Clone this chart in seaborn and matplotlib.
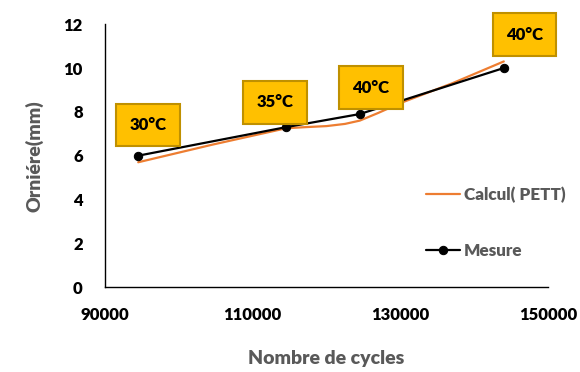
import matplotlib
matplotlib.use("Agg")
import matplotlib.pyplot as plt
import seaborn as sns
import pandas as pd

# measured points
cycles_mesure = [94500, 114500, 124500, 144000]
orniere_mesure = [6.0, 7.3, 7.9, 10.0]

# calculated curve (PETT)
cycles_calcul = [94500, 104500, 114500, 117000, 120000, 122500, 124500, 127000,
                 130000, 137000, 144000]
orniere_calcul = [5.7, 6.5, 7.25, 7.3, 7.35, 7.45, 7.6, 7.95, 8.4, 9.3, 10.3]

temperatures = ["30°C", "35°C", "40°C", "40°C"]
label_offsets = [(7, 22), (-8, 18), (8, 19), (15, 24)]  # in points

x_ticks = [90000, 110000, 130000, 150000]
y_ticks = [0, 2, 4, 6, 8, 10, 12]

sns.set_style("white")
plt.rcParams["font.family"] = ["Lato", "DejaVu Sans"]

df_mesure = pd.DataFrame({"cycles": cycles_mesure, "orniere": orniere_mesure})
df_calcul = pd.DataFrame({"cycles": cycles_calcul, "orniere": orniere_calcul})

fig = plt.figure(figsize=(5.8, 3.72), dpi=100)
ax = fig.add_axes([0.181, 0.228, 0.764, 0.707])

sns.lineplot(data=df_calcul, x="cycles", y="orniere", ax=ax, color="#ED7D31",
             linewidth=1.6, label="Calcul( PETT)")
sns.lineplot(data=df_mesure, x="cycles", y="orniere", ax=ax, color="black",
             linewidth=1.6, marker="o", markersize=6, markeredgecolor="black",
             label="Mesure")

for xv, yv, t, off in zip(cycles_mesure, orniere_mesure, temperatures, label_offsets):
    ax.annotate(t, (xv, yv), xytext=off, textcoords="offset points",
                ha="center", va="center", fontsize=12, fontweight="heavy",
                color="black",
                bbox=dict(boxstyle="square,pad=0.8", facecolor="#FFC000",
                          edgecolor="#BF9000", linewidth=1.5))

ax.set_xlim(90000, 150000)
ax.set_ylim(0, 12)
ax.set_xticks(x_ticks)
ax.set_yticks(y_ticks)
ax.tick_params(axis="both", length=0, labelsize=12, labelcolor="black")
ax.tick_params(axis="x", pad=14)
ax.tick_params(axis="y", pad=16)
for lab in ax.get_xticklabels() + ax.get_yticklabels():
    lab.set_fontweight("heavy")

for s in ["top", "right"]:
    ax.spines[s].set_visible(False)
for s in ["left", "bottom"]:
    ax.spines[s].set_color("black")
    ax.spines[s].set_linewidth(1.0)

ax.set_xlabel("Nombre de cycles", fontsize=14, fontweight="heavy", color="#595959",
              labelpad=20)
ax.set_ylabel("Orniére(mm)", fontsize=14, fontweight="heavy", color="#595959",
              labelpad=14)

leg = ax.legend(loc="center left", bbox_to_anchor=(0.69, 0.245), frameon=False,
                fontsize=12.3, labelspacing=2.3, handlelength=2.0,
                handletextpad=0.2)
for txt in leg.get_texts():
    txt.set_color("#595959")
    txt.set_fontweight("heavy")

fig.savefig("out.png", dpi=100)
